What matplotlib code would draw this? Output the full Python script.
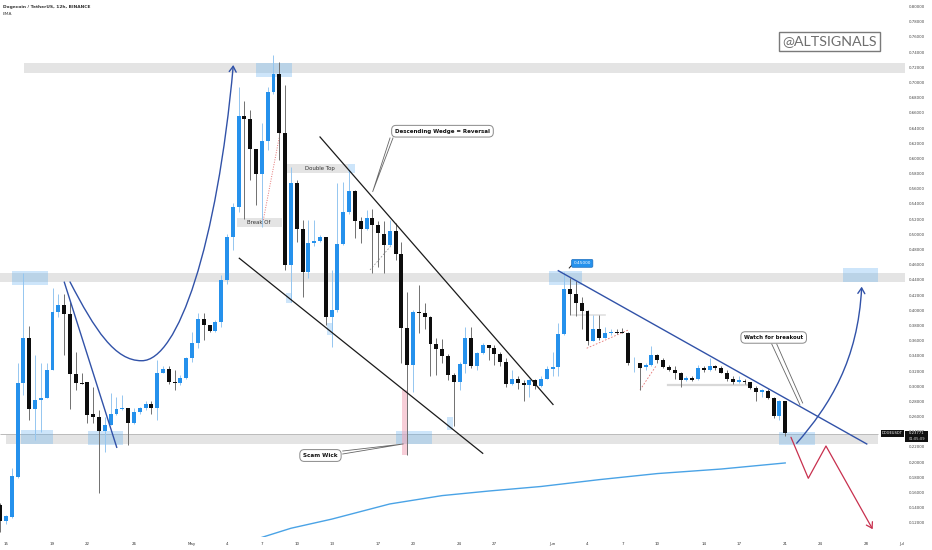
import numpy as np
import matplotlib
matplotlib.use('Agg')
import matplotlib.pyplot as plt
from matplotlib.patches import Rectangle, FancyArrowPatch
from matplotlib.path import Path

# ---------------- data (12h candles, index 0 = 15 Apr 00:00) ----------------
first_index = -1
opens = [0.144, 0.122, 0.128, 0.181, 0.304, 0.364, 0.270, 0.282, 0.285, 0.321,
         0.398, 0.407, 0.395, 0.316, 0.304, 0.305, 0.263, 0.260, 0.241, 0.249,
         0.263, 0.270, 0.271, 0.251, 0.266, 0.271, 0.277, 0.272, 0.318, 0.323,
         0.306, 0.304, 0.311, 0.337, 0.357, 0.389, 0.380, 0.373, 0.384, 0.440,
         0.496, 0.536, 0.656, 0.652, 0.612, 0.579, 0.623, 0.687, 0.711, 0.634,
         0.460, 0.568, 0.507, 0.450, 0.489, 0.491, 0.496, 0.391, 0.400, 0.487,
         0.530, 0.557, 0.517, 0.507, 0.522, 0.512, 0.501, 0.486, 0.505, 0.474,
         0.377, 0.328, 0.398, 0.396, 0.391, 0.356, 0.349, 0.340, 0.315, 0.305,
         0.329, 0.364, 0.327, 0.344, 0.354, 0.351, 0.343, 0.332, 0.303, 0.309,
         0.304, 0.302, 0.308, 0.300, 0.310, 0.323, 0.325, 0.369, 0.428, 0.422,
         0.410, 0.399, 0.360, 0.375, 0.364, 0.370, 0.371, 0.372, 0.370, 0.330,
         0.330, 0.325, 0.328, 0.341, 0.334, 0.325, 0.322, 0.318, 0.308, 0.311,
         0.309, 0.324, 0.321, 0.327, 0.324, 0.318, 0.309, 0.305, 0.307, 0.305,
         0.298, 0.293, 0.294, 0.284, 0.261, 0.280]
highs = [0.146, 0.131, 0.192, 0.330, 0.449, 0.379, 0.341, 0.330, 0.330, 0.429,
         0.422, 0.422, 0.411, 0.345, 0.317, 0.306, 0.299, 0.269, 0.260, 0.291,
         0.286, 0.288, 0.271, 0.271, 0.273, 0.280, 0.280, 0.334, 0.326, 0.326,
         0.321, 0.315, 0.339, 0.372, 0.396, 0.396, 0.381, 0.387, 0.446, 0.500,
         0.541, 0.694, 0.675, 0.664, 0.613, 0.646, 0.694, 0.736, 0.727, 0.697,
         0.589, 0.572, 0.519, 0.519, 0.519, 0.499, 0.497, 0.453, 0.567, 0.569,
         0.585, 0.558, 0.523, 0.532, 0.534, 0.517, 0.517, 0.519, 0.515, 0.490,
         0.424, 0.400, 0.433, 0.410, 0.392, 0.363, 0.362, 0.343, 0.317, 0.332,
         0.378, 0.378, 0.345, 0.357, 0.354, 0.354, 0.345, 0.337, 0.321, 0.313,
         0.308, 0.310, 0.310, 0.313, 0.326, 0.345, 0.383, 0.451, 0.442, 0.438,
         0.418, 0.400, 0.394, 0.394, 0.378, 0.376, 0.376, 0.377, 0.372, 0.339,
         0.331, 0.330, 0.353, 0.343, 0.337, 0.328, 0.326, 0.319, 0.313, 0.313,
         0.328, 0.326, 0.337, 0.328, 0.326, 0.321, 0.313, 0.313, 0.309, 0.306,
         0.300, 0.296, 0.296, 0.286, 0.282, 0.281]
lows = [0.108, 0.119, 0.126, 0.179, 0.288, 0.255, 0.229, 0.240, 0.284, 0.321,
        0.391, 0.341, 0.270, 0.295, 0.303, 0.251, 0.251, 0.159, 0.213, 0.249,
        0.262, 0.269, 0.223, 0.250, 0.264, 0.269, 0.264, 0.255, 0.317, 0.303,
        0.295, 0.302, 0.309, 0.332, 0.351, 0.361, 0.371, 0.372, 0.378, 0.435,
        0.480, 0.530, 0.520, 0.572, 0.539, 0.510, 0.611, 0.685, 0.598, 0.453,
        0.411, 0.490, 0.418, 0.442, 0.484, 0.490, 0.381, 0.352, 0.398, 0.486,
        0.527, 0.495, 0.488, 0.506, 0.449, 0.457, 0.449, 0.484, 0.466, 0.330,
        0.209, 0.293, 0.370, 0.376, 0.313, 0.315, 0.330, 0.308, 0.247, 0.295,
        0.317, 0.324, 0.321, 0.343, 0.335, 0.328, 0.326, 0.299, 0.302, 0.297,
        0.280, 0.286, 0.296, 0.299, 0.309, 0.313, 0.313, 0.367, 0.394, 0.392,
        0.376, 0.354, 0.359, 0.361, 0.364, 0.367, 0.369, 0.370, 0.328, 0.319,
        0.295, 0.321, 0.326, 0.331, 0.324, 0.320, 0.310, 0.299, 0.307, 0.307,
        0.308, 0.319, 0.320, 0.322, 0.317, 0.307, 0.303, 0.304, 0.303, 0.297,
        0.280, 0.286, 0.283, 0.258, 0.255, 0.234]
closes = [0.122, 0.129, 0.182, 0.304, 0.364, 0.270, 0.282, 0.285, 0.321, 0.398,
          0.407, 0.395, 0.316, 0.304, 0.303, 0.262, 0.260, 0.241, 0.249, 0.263,
          0.270, 0.271, 0.251, 0.266, 0.271, 0.277, 0.272, 0.318, 0.323, 0.305,
          0.304, 0.311, 0.337, 0.357, 0.389, 0.380, 0.373, 0.384, 0.440, 0.496,
          0.536, 0.656, 0.652, 0.612, 0.579, 0.623, 0.687, 0.711, 0.634, 0.460,
          0.568, 0.507, 0.450, 0.489, 0.491, 0.496, 0.391, 0.400, 0.487, 0.530,
          0.557, 0.517, 0.507, 0.522, 0.512, 0.502, 0.486, 0.505, 0.474, 0.377,
          0.328, 0.398, 0.396, 0.391, 0.356, 0.349, 0.340, 0.315, 0.305, 0.329,
          0.364, 0.327, 0.344, 0.354, 0.351, 0.343, 0.332, 0.303, 0.309, 0.304,
          0.302, 0.308, 0.300, 0.310, 0.323, 0.325, 0.369, 0.428, 0.422, 0.410,
          0.399, 0.360, 0.375, 0.364, 0.370, 0.371, 0.370, 0.370, 0.330, 0.331,
          0.324, 0.328, 0.341, 0.334, 0.325, 0.322, 0.318, 0.308, 0.311, 0.308,
          0.324, 0.321, 0.327, 0.324, 0.318, 0.309, 0.305, 0.308, 0.305, 0.298,
          0.293, 0.295, 0.284, 0.261, 0.280, 0.238]

ema_idx = [40, 44, 49, 56, 66, 75, 83, 92, 102, 112, 123, 134]
ema_val = [0.090, 0.101, 0.113, 0.125, 0.145, 0.156, 0.162, 0.168, 0.177, 0.185, 0.191, 0.199]

last_price = 0.23771
price_ticks = np.round(np.arange(0.12, 0.8001, 0.02), 2)
day_offsets = [0, 4, 7, 11, 16, 19, 22, 25, 28, 32, 35, 39, 42, 47, 50, 53, 56, 60, 63, 67, 70, 74, 77]
day_labels = ['15', '19', '22', '26', 'May', '4', '7', '10', '13', '17', '20', '24', '27',
              'Jun', '4', '7', '10', '14', '17', '21', '24', '28', 'Jul']

# ---------------- figure ----------------
plt.rcParams['font.family'] = ['DejaVu Sans']
fig = plt.figure(figsize=(9.32, 5.5), dpi=100, facecolor='white')
ax = fig.add_axes([0, 13 / 550, 905 / 932, 537 / 550])
ax.set_facecolor('white')
XMIN, XMAX = -1.032, 154.6
YMIN, YMAX = 0.10149, 0.80856
ax.set_xlim(XMIN, XMAX)
ax.set_ylim(YMIN, YMAX)
for s in ax.spines.values():
    s.set_visible(False)

# zones
band_c = '#e4e4e4'
ax.add_patch(Rectangle((3.1, 0.7124), XMAX - 3.1, 0.0128, fc=band_c, ec='none', zorder=1))
ax.add_patch(Rectangle((XMIN, 0.4375), XMAX - XMIN, 0.0120, fc=band_c, ec='none', zorder=1))
ax.add_patch(Rectangle((0.0, 0.2240), 149.96, 0.0118, fc=band_c, ec='none', zorder=1))
ax.hlines(last_price, XMIN, 150.0, color='#b0b0b0', lw=0.6, zorder=1.5)

blue_rects = [(43.0, 49.2, 0.7072, 0.7256), (1.03, 7.22, 0.4333, 0.4517),
              (2.58, 8.08, 0.2240, 0.2424), (14.10, 20.12, 0.2226, 0.2411),
              (67.07, 73.26, 0.2240, 0.2411), (93.38, 99.05, 0.4333, 0.4517),
              (132.93, 139.12, 0.2226, 0.2397), (143.94, 149.96, 0.4372, 0.4557),
              (48.15, 49.18, 0.4096, 0.4228), (55.20, 56.23, 0.3675, 0.3833),
              (75.84, 76.87, 0.2424, 0.2595), (58.81, 60.02, 0.5808, 0.5926)]
for x0, x1, y0, y1 in blue_rects:
    ax.add_patch(Rectangle((x0, y0), x1 - x0, y1 - y0, fc='#64b0f0', alpha=0.32, ec='none', zorder=2))

# scam wick highlight
ax.add_patch(Rectangle((68.1, 0.2095), 1.03, 0.0856, fc='#f2a7b8', alpha=0.55, ec='none', zorder=2))

# label bands
ax.add_patch(Rectangle((48.32, 0.5808), 10.49, 0.0118, fc=band_c, ec='none', zorder=2))
ax.text(54.0, 0.5866, 'Double Top', ha='center', va='center', fontsize=3.9, color='#333333', zorder=6)
ax.add_patch(Rectangle((39.72, 0.5097), 7.74, 0.0118, fc=band_c, ec='none', zorder=2))
ax.text(43.5, 0.5156, 'Break Of', ha='center', va='center', fontsize=3.9, color='#333333', zorder=6)

# faint drawing helpers
ax.plot([44.25, 47.12], [0.5189, 0.6331], color='#e57373', lw=0.7, ls=(0, (1, 1.5)), zorder=3)
ax.plot([99.86, 107.02], [0.3500, 0.3741], color='#e57373', lw=0.6, ls=(0, (2, 2)), zorder=3)
ax.plot([109.03, 111.9], [0.2951, 0.3280], color='#e57373', lw=0.6, ls=(0, (2, 2)), zorder=3)
ax.plot([62.6, 66.33], [0.4531, 0.4860], color='#9a9a9a', lw=0.6, ls=(0, (2, 2)), zorder=3)
ax.plot([113.9, 127.4], [0.3016, 0.3016], color='#d8d8d8', lw=1.6, zorder=2)
ax.plot([97.28, 103.0], [0.3938, 0.3938], color='#e0e0e0', lw=1.2, zorder=2)

# ---------------- candles ----------------
o = np.array(opens); h = np.array(highs); l = np.array(lows); c = np.array(closes)
x = np.arange(len(o)) + first_index
up = c >= o
bb = np.minimum(o, c)
bh = np.maximum(np.abs(c - o), 0.0012)
ax.vlines(x[up], l[up], h[up], color='#94c6f0', lw=0.7, zorder=3)
ax.vlines(x[~up], l[~up], h[~up], color='#707070', lw=0.7, zorder=3)
ax.bar(x[up], bh[up], bottom=bb[up], width=0.68, color='#2591ec', lw=0, zorder=4)
ax.bar(x[~up], bh[~up], bottom=bb[~up], width=0.68, color='#0d0d0d', lw=0, zorder=4)

# EMA
ax.plot(ema_idx, ema_val, color='#4aa3e6', lw=1.0, zorder=4)

# ---------------- trend lines ----------------
navy = '#3152a8'
ax.plot([54.0, 94.07], [0.6282, 0.2760], color='#1a1a1a', lw=0.9, zorder=5)
ax.plot([40.12, 81.98], [0.4685, 0.2117], color='#1a1a1a', lw=0.9, zorder=5)
ax.plot([10.03, 19.04], [0.4369, 0.2196], color=navy, lw=1.0, zorder=5)
ax.plot([94.98, 148.02], [0.4521, 0.2240], color=navy, lw=1.0, zorder=5)

cup = Path([(11.01, 0.4373), (15.31, 0.3740), (18.74, 0.3332), (23.34, 0.3336),
            (29.58, 0.3332), (36.29, 0.4860), (39.09, 0.7230)],
           [Path.MOVETO, Path.CURVE4, Path.CURVE4, Path.CURVE4,
            Path.CURVE4, Path.CURVE4, Path.CURVE4])
ax.add_patch(FancyArrowPatch(path=cup, arrowstyle='->,head_length=4,head_width=2.5',
                             mutation_scale=1, color=navy, lw=1.0, zorder=5))
rise = Path([(135.97, 0.2249), (141.70, 0.2753), (146.52, 0.3346), (147.15, 0.4311)],
            [Path.MOVETO, Path.CURVE4, Path.CURVE4, Path.CURVE4])
ax.add_patch(FancyArrowPatch(path=rise, arrowstyle='->,head_length=4,head_width=2.5',
                             mutation_scale=1, color=navy, lw=1.0, zorder=5))
zig = Path([(134.99, 0.2328), (137.97, 0.1788), (141.01, 0.2213), (149.04, 0.1117)],
           [Path.MOVETO, Path.LINETO, Path.LINETO, Path.LINETO])
ax.add_patch(FancyArrowPatch(path=zig, arrowstyle='->,head_length=4,head_width=2.5',
                             mutation_scale=1, color='#c8304e', lw=0.9, zorder=5))

# ---------------- callouts ----------------
ptr = '#666666'
ax.plot([66.04, 63.06, 66.55], [0.6269, 0.5562, 0.6269], color=ptr, lw=0.6, zorder=5)
ax.plot([57.90, 68.32, 57.90], [0.2147, 0.2240, 0.2108], color=ptr, lw=0.6, zorder=5)
ax.plot([131.68, 136.54], [0.3556, 0.2753], color=ptr, lw=0.6, zorder=5)
ax.plot([132.54, 137.0], [0.3556, 0.2779], color=ptr, lw=0.6, zorder=5)
ax.plot([97.55, 96.86], [0.4615, 0.4557], color='#222222', lw=0.7, zorder=5)

box = dict(boxstyle='round,pad=0.6,rounding_size=0.8', fc='white', ec='#8a8a8a', lw=0.7)
ax.text(75.06, 0.6358, 'Descending Wedge = Reversal', ha='center', va='center',
        fontsize=4.0, fontweight='bold', color='#111111', bbox=box, zorder=7)
ax.text(54.08, 0.2088, 'Scam Wick', ha='center', va='center',
        fontsize=4.1, fontweight='bold', color='#111111', bbox=box, zorder=7)
ax.text(132.02, 0.3642, 'Watch for breakout', ha='center', va='center',
        fontsize=3.9, fontweight='bold', color='#111111', bbox=box, zorder=7)
ax.text(99.09, 0.4618, '0.45000', ha='center', va='center', fontsize=3.1, color='white',
        bbox=dict(boxstyle='round,pad=0.45,rounding_size=0.3', fc='#2591ec', ec='#1c6fc0', lw=0.5),
        zorder=7)

ax.text(141.62, 0.7541, '@ALTSIGNALS', ha='center', va='center', fontsize=10.3,
        family=['Lato', 'DejaVu Sans'], color='#6e6e6e',
        bbox=dict(boxstyle='square,pad=0.22', fc='white', ec='#7a7a7a', lw=1.0), zorder=7)

# last price labels
ax.text(152.45, 0.23777, 'DOGEUSDT', ha='center', va='center', fontsize=2.6, color='white',
        bbox=dict(boxstyle='square,pad=0.3', fc='#111111', ec='none'), zorder=8, clip_on=False)
ax.add_patch(Rectangle((154.65, 0.2270), 3.95, 0.0145, fc='#111111', ec='none', zorder=8, clip_on=False))
ax.text(156.63, 0.2378, '%.5f' % last_price, ha='center', va='center', fontsize=2.7,
        color='white', zorder=9, clip_on=False)
ax.text(156.63, 0.2305, '01:05:09', ha='center', va='center', fontsize=2.6,
        color='#dddddd', zorder=9, clip_on=False)

# ---------------- axes ticks ----------------
ax.yaxis.tick_right()
ax.set_yticks(price_ticks)
ax.set_yticklabels(['%.5f' % v for v in price_ticks])
ax.tick_params(axis='y', length=0, pad=3, labelsize=2.8, labelcolor='#444444')
ax.set_xticks([2 * d for d in day_offsets])
ax.set_xticklabels(day_labels)
ax.tick_params(axis='x', length=0, pad=3.5, labelsize=2.9, labelcolor='#333333')

fig.text(2.7 / 932, 1 - 6.8 / 550, 'Dogecoin / TetherUS, 12h, BINANCE', ha='left', va='center',
         fontsize=3.2, fontweight='bold', color='#333333')
fig.text(2.7 / 932, 1 - 14 / 550, 'EMA', ha='left', va='center', fontsize=3.2, color='#444444')

fig.savefig('out.png', dpi=100, facecolor='white')
